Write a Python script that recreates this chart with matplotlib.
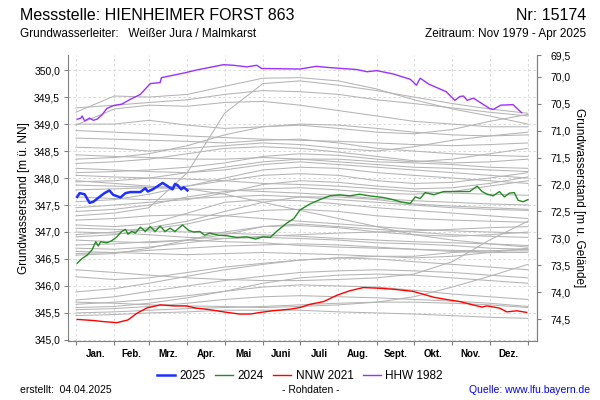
import numpy as np
import matplotlib
matplotlib.use("Agg")
import matplotlib.pyplot as plt
from matplotlib.ticker import FixedLocator, NullFormatter

plt.rcParams["font.family"] = ["Liberation Sans", "DejaVu Sans"]

""" Data """

# ground level of the well (m above NN), used for the right axis.
GROUND = 419.88

# month boundaries (day of year) and month names.
month_days = [0, 31, 59, 90, 120, 151, 181, 212, 243, 273, 304, 334, 365]
month_names = ["Jan.", "Feb.", "Mrz.", "Apr.", "Mai", "Juni", "Juli", "Aug.", "Sept.", "Okt.", "Nov.", "Dez."]

# 2025 (blue)
days_2025 = [1, 3, 7, 11, 14, 19, 23, 27, 30, 36, 40, 44, 52, 56, 58, 62, 66, 70, 74, 78, 80, 82, 85, 87, 90]
vals_2025 = [347.65, 347.72, 347.70, 347.54, 347.56, 347.65, 347.72, 347.77, 347.69, 347.64, 347.72, 347.74, 347.74,
             347.81, 347.75, 347.79, 347.85, 347.91, 347.85, 347.79, 347.89, 347.87, 347.79, 347.83, 347.77]

# 2024 (green)
days_2024 = [1, 5, 9, 13, 16, 18, 20, 25, 29, 33, 37, 40, 42, 45, 48, 52, 56, 60, 64, 68, 72, 76, 80, 86, 91, 95,
             100, 104, 108, 115, 122, 130, 138, 145, 151, 157, 162, 170, 176, 181, 189, 197, 205, 213, 221, 229,
             237, 248, 256, 262, 270, 274, 278, 282, 289, 297, 308, 318, 324, 328, 332, 337, 342, 346, 350, 354,
             357, 361, 365]
vals_2024 = [346.42, 346.51, 346.57, 346.67, 346.82, 346.74, 346.82, 346.80, 346.84, 346.91, 347.01, 347.05, 346.96,
             347.01, 346.98, 347.09, 347.01, 347.10, 347.01, 347.11, 347.01, 347.07, 347.01, 347.13, 347.03, 347.00,
             347.01, 346.94, 346.98, 346.94, 346.93, 346.90, 346.91, 346.87, 346.91, 346.90, 347.01, 347.16, 347.25,
             347.41, 347.52, 347.60, 347.67, 347.69, 347.67, 347.70, 347.67, 347.64, 347.60, 347.56, 347.53, 347.65,
             347.62, 347.73, 347.69, 347.75, 347.75, 347.75, 347.85, 347.75, 347.70, 347.67, 347.75, 347.65, 347.72,
             347.73, 347.59, 347.56, 347.60]

# NNW 2021 (red)
days_nnw = [1, 14, 22, 33, 42, 49, 57, 68, 79, 89, 97, 108, 122, 132, 141, 149, 159, 173, 181, 189, 200, 211, 221,
            232, 243, 256, 272, 280, 289, 299, 310, 324, 328, 332, 342, 348, 356, 364]
vals_nnw = [345.38, 345.36, 345.34, 345.32, 345.37, 345.49, 345.59, 345.65, 345.63, 345.63, 345.59, 345.56, 345.51,
            345.48, 345.48, 345.51, 345.54, 345.57, 345.60, 345.66, 345.71, 345.83, 345.91, 345.97, 345.96, 345.94,
            345.90, 345.85, 345.79, 345.75, 345.71, 345.63, 345.61, 345.63, 345.59, 345.52, 345.54, 345.51]

# HHW 1982 (purple)
days_hhw = [1, 4, 5, 7, 11, 14, 17, 21, 25, 30, 37, 44, 52, 60, 68, 69, 88, 97, 119, 127, 138, 146, 150, 181, 194,
            203, 227, 235, 243, 256, 270, 275, 278, 285, 299, 306, 310, 313, 316, 321, 334, 337, 343, 353, 360]
vals_hhw = [349.09, 349.11, 349.15, 349.06, 349.11, 349.07, 349.09, 349.17, 349.29, 349.34, 349.37, 349.46, 349.55,
            349.75, 349.77, 349.86, 349.95, 350.00, 350.10, 350.09, 350.06, 350.09, 350.03, 350.02, 350.07, 350.05,
            350.01, 349.97, 349.99, 349.93, 349.83, 349.72, 349.85, 349.74, 349.60, 349.44, 349.51, 349.52, 349.44,
            349.48, 349.29, 349.27, 349.35, 349.36, 349.21]

# all other years (grey), values at the month boundaries.
grey_years = [
    [349.22, 349.52, 349.50, 349.55, 349.70, 349.85, 349.86, 349.80, 349.65, 349.45, 349.28, 349.15, 349.00],
    [347.30, 347.35, 347.45, 348.10, 349.20, 349.75, 349.80, 349.72, 349.62, 349.50, 349.38, 349.28, 349.20],
    [348.98, 349.28, 349.35, 349.33, 349.40, 349.42, 349.35, 349.25, 349.15, 349.05, 349.00, 348.95, 348.95],
    [349.00, 349.00, 349.07, 348.98, 348.92, 348.95, 348.98, 348.92, 348.85, 348.82, 348.90, 349.05, 349.18],
    [348.74, 348.72, 348.70, 348.68, 348.65, 348.70, 348.72, 348.65, 348.55, 348.50, 348.45, 348.42, 348.40],
    [348.57, 348.55, 348.50, 348.55, 348.60, 348.65, 348.62, 348.55, 348.50, 348.58, 348.70, 348.78, 348.85],
    [348.43, 348.40, 348.38, 348.35, 348.35, 348.38, 348.35, 348.30, 348.25, 348.20, 348.18, 348.15, 348.12],
    [348.27, 348.30, 348.35, 348.45, 348.55, 348.58, 348.55, 348.48, 348.40, 348.32, 348.28, 348.30, 348.35],
    [348.18, 348.15, 348.12, 348.10, 348.15, 348.25, 348.30, 348.25, 348.20, 348.15, 348.10, 348.05, 348.00],
    [347.93, 347.95, 348.00, 348.10, 348.20, 348.30, 348.35, 348.35, 348.30, 348.28, 348.25, 348.20, 348.18],
    [347.87, 347.85, 347.83, 347.85, 347.95, 348.05, 348.08, 348.05, 347.95, 347.90, 347.92, 348.00, 348.10],
    [347.78, 347.80, 347.82, 347.80, 347.78, 347.75, 347.72, 347.68, 347.62, 347.58, 347.55, 347.52, 347.50],
    [347.56, 347.60, 347.70, 347.85, 348.00, 348.15, 348.20, 348.18, 348.10, 348.05, 348.00, 347.95, 347.90],
    [347.38, 347.42, 347.50, 347.65, 347.75, 347.80, 347.82, 347.78, 347.72, 347.70, 347.75, 347.85, 347.95],
    [347.13, 347.10, 347.15, 347.35, 347.55, 347.60, 347.58, 347.52, 347.45, 347.40, 347.35, 347.30, 347.25],
    [347.07, 347.05, 347.02, 347.00, 346.98, 346.95, 346.92, 346.88, 346.85, 346.82, 346.80, 346.78, 346.75],
    [346.91, 346.95, 347.05, 347.15, 347.30, 347.40, 347.42, 347.38, 347.30, 347.25, 347.22, 347.20, 347.18],
    [346.85, 346.82, 346.80, 346.85, 346.95, 347.10, 347.15, 347.10, 347.05, 347.00, 346.95, 346.92, 346.90],
    [346.76, 346.78, 346.82, 346.85, 346.82, 346.80, 346.75, 346.72, 346.70, 346.68, 346.66, 346.65, 346.65],
    [346.64, 346.62, 346.60, 346.58, 346.60, 346.62, 346.60, 346.58, 346.55, 346.52, 346.55, 346.62, 346.70],
    [346.57, 346.60, 346.70, 346.85, 347.00, 347.10, 347.12, 347.08, 347.00, 346.95, 346.92, 346.95, 347.00],
    [346.17, 346.12, 346.15, 346.25, 346.35, 346.42, 346.48, 346.52, 346.55, 346.55, 346.62, 346.65, 346.68],
    [345.89, 345.95, 346.05, 346.18, 346.30, 346.40, 346.48, 346.52, 346.50, 346.45, 346.40, 346.35, 346.30],
    [345.74, 345.80, 345.90, 346.00, 346.10, 346.18, 346.25, 346.28, 346.30, 346.28, 346.25, 346.20, 346.15],
    [345.66, 345.70, 345.75, 345.82, 345.90, 345.98, 346.02, 346.00, 345.98, 345.92, 345.85, 345.80, 345.75],
    [345.56, 345.58, 345.62, 345.68, 345.75, 345.80, 345.82, 345.80, 345.78, 345.75, 345.72, 345.68, 345.62],
    [345.50, 345.52, 345.55, 345.58, 345.60, 345.62, 345.65, 345.68, 345.70, 345.70, 345.68, 345.65, 345.60],
    [345.70, 345.68, 345.65, 345.63, 345.62, 345.60, 345.62, 345.65, 345.70, 345.80, 345.98, 346.18, 346.40],
    [345.45, 345.47, 345.50, 345.52, 345.55, 345.55, 345.55, 345.52, 345.50, 345.48, 345.45, 345.42, 345.40],
    [346.30, 346.25, 346.20, 346.15, 346.12, 346.10, 346.10, 346.12, 346.15, 346.22, 346.45, 346.85, 347.20],
    [348.05, 348.02, 348.00, 347.98, 347.95, 347.90, 347.88, 347.85, 347.80, 347.75, 347.72, 347.70, 347.68],
    [347.65, 347.62, 347.60, 347.62, 347.65, 347.68, 347.65, 347.60, 347.55, 347.50, 347.45, 347.42, 347.40],
    [347.22, 347.25, 347.30, 347.32, 347.30, 347.25, 347.20, 347.15, 347.10, 347.05, 347.02, 347.00, 346.98],
    [346.70, 346.68, 346.72, 346.80, 346.88, 346.90, 346.88, 346.85, 346.80, 346.78, 346.75, 346.70, 346.68],
    [347.95, 347.90, 347.85, 347.80, 347.70, 347.55, 347.40, 347.25, 347.10, 346.95, 346.85, 346.78, 346.72],
    [348.88, 348.85, 348.82, 348.78, 348.75, 348.72, 348.70, 348.68, 348.65, 348.62, 348.60, 348.62, 348.65],
    [349.30, 349.35, 349.40, 349.45, 349.55, 349.62, 349.60, 349.55, 349.45, 349.38, 349.30, 349.22, 349.15],
    [348.35, 348.38, 348.45, 348.60, 348.80, 348.95, 349.00, 348.98, 348.92, 348.85, 348.80, 348.78, 348.80],
    [347.45, 347.50, 347.55, 347.60, 347.72, 347.88, 347.95, 347.92, 347.85, 347.80, 347.82, 347.90, 348.02],
    [346.95, 347.00, 347.08, 347.20, 347.38, 347.55, 347.65, 347.65, 347.60, 347.52, 347.48, 347.45, 347.42],
    [347.00, 346.98, 346.95, 346.90, 346.88, 346.92, 346.95, 346.98, 347.00, 347.02, 347.05, 347.08, 347.10],
    [348.10, 348.12, 348.15, 348.20, 348.28, 348.40, 348.45, 348.42, 348.35, 348.30, 348.35, 348.45, 348.55],
    [346.60, 346.62, 346.66, 346.70, 346.74, 346.76, 346.78, 346.76, 346.72, 346.68, 346.64, 346.62, 346.62],
    [345.60, 345.62, 345.68, 345.78, 345.90, 346.05, 346.15, 346.20, 346.22, 346.20, 346.15, 346.10, 346.05],
]

""" Helper Functions """

# format a number with a german decimal comma.
def Comma(value: float) -> str:
    return f"{value:.1f}".replace(".", ",")

""" Plot """

figure = plt.figure(figsize=(6, 4), dpi=100)
axes = figure.add_axes([0.114, 0.1475, 0.7805, 0.715])

y_low, y_high = 344.98, 350.28
axes.set_xlim(-6.1, 372.1)
axes.set_ylim(y_low, y_high)

# grey lines of all years first, coloured ones on top.
for values in grey_years:
    axes.plot(month_days, values, color="#b4b4b4", lw=0.75, zorder=1)

axes.plot(days_nnw, vals_nnw, color="#ff0000", lw=1.0, zorder=3, label="NNW 2021")
axes.plot(days_hhw, vals_hhw, color="#9b30ff", lw=1.0, zorder=3, label="HHW 1982")
axes.plot(days_2024, vals_2024, color="#228b22", lw=1.0, zorder=4, label="2024")
axes.plot(days_2025, vals_2025, color="#1f2fff", lw=1.8, zorder=5, label="2025")

# left axis ticks and grid.
left_ticks = np.arange(345.0, 350.01, 0.5)
axes.yaxis.set_major_locator(FixedLocator(left_ticks))
axes.set_yticklabels([Comma(v) for v in left_ticks])
axes.tick_params(axis="y", labelsize=7.5, length=3, color="#808080", pad=3)
axes.set_ylabel("Grundwasserstand [m ü. NN]", fontsize=8.5, labelpad=3)

# month ticks at the boundaries, names in between.
axes.xaxis.set_major_locator(FixedLocator(month_days))
axes.xaxis.set_major_formatter(NullFormatter())
centers = [(month_days[i] + month_days[i + 1]) / 2 for i in range(12)]
axes.xaxis.set_minor_locator(FixedLocator(centers))
axes.set_xticklabels(month_names, minor=True, fontsize=7, fontweight="bold")
axes.tick_params(axis="x", which="major", length=3, color="#808080")
axes.tick_params(axis="x", which="minor", length=0, pad=6)

axes.grid(True, which="major", color="#d4d4d4", lw=0.6, ls=(0, (3, 3)))
axes.set_axisbelow(True)

axes.spines["top"].set_visible(False)
for side in ["left", "bottom", "right"]:
    axes.spines[side].set_color("#808080")

# right axis: depth below ground.
right = axes.twinx()
right.set_ylim(GROUND - y_low, GROUND - y_high)
right_ticks = [GROUND - y_high] + list(np.arange(70.0, 74.51, 0.5))
right.yaxis.set_major_locator(FixedLocator(right_ticks))
right.set_yticklabels(["69,5"] + [Comma(v) for v in right_ticks[1:]])
right.tick_params(axis="y", labelsize=7.5, length=3, color="#808080", pad=7)
right.set_ylabel("Grundwasserstand [m u. Gelände]", fontsize=8.5, rotation=270, labelpad=10)
for side in ["top", "left", "bottom"]:
    right.spines[side].set_visible(False)
right.spines["right"].set_color("#808080")

# header texts.
figure.text(20 / 600, 1 - 15 / 400, "Messstelle: HIENHEIMER FORST 863", fontsize=11.5, va="center", ha="left")
figure.text(586 / 600, 1 - 15 / 400, "Nr: 15174", fontsize=11.5, va="center", ha="right")
figure.text(20 / 600, 1 - 34 / 400, "Grundwasserleiter:   Weißer Jura / Malmkarst", fontsize=8.5, va="center", ha="left")
figure.text(586 / 600, 1 - 34 / 400, "Zeitraum: Nov 1979 - Apr 2025", fontsize=8.5, va="center", ha="right")

# legend in the order of the reference.
handles, labels = axes.get_legend_handles_labels()
order = ["2025", "2024", "NNW 2021", "HHW 1982"]
handles = [handles[labels.index(name)] for name in order]
figure.legend(handles, order, loc="center", bbox_to_anchor=(0.5, 1 - 376 / 400), ncol=4, frameon=False,
              fontsize=8.5, handlelength=1.5, handletextpad=0.4, columnspacing=0.8)

# footer texts.
figure.text(20 / 600, 1 - 390 / 400, "erstellt:  04.04.2025", fontsize=7.5, va="center", ha="left")
figure.text(311 / 600, 1 - 390 / 400, "- Rohdaten -", fontsize=7.5, va="center", ha="center")
figure.text(590 / 600, 1 - 390 / 400, "Quelle: www.lfu.bayern.de", fontsize=7.5, va="center", ha="right", color="#0000ff")

figure.savefig("out.png", dpi=100)
plt.close(figure)
